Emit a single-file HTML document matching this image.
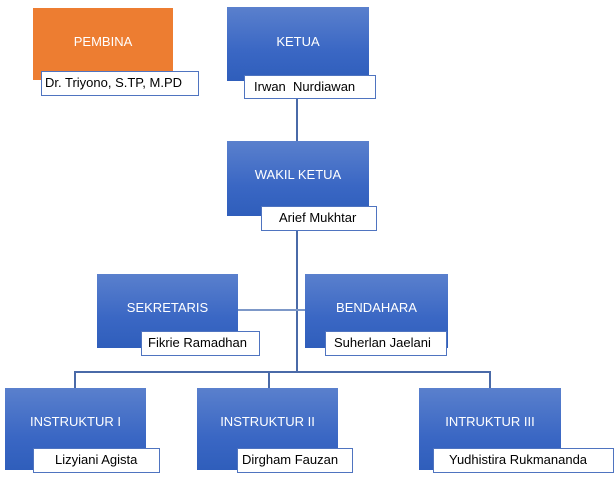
<!DOCTYPE html>
<html><head><meta charset="utf-8"><style>
body{margin:0;width:614px;height:482px;background:#fff;position:relative;overflow:hidden;font-family:"Liberation Sans",sans-serif}
.b{position:absolute;background:linear-gradient(#5a80cd,#3a67c4 60%,#2f5ebb);color:#fff;font-size:13px;text-align:center;box-sizing:border-box}
.o{background:#ed7d31}
.l{position:absolute;background:#fff;border:1.5px solid #4f74c0;font-size:13px;color:#000;box-sizing:border-box;line-height:22px;white-space:nowrap}
.ln{position:absolute;background:#4a6aa8}
</style></head><body>
<div class="ln" style="left:296px;top:99px;width:2px;height:42px"></div>
<div class="ln" style="left:296px;top:230px;width:2px;height:143px"></div>
<div class="ln" style="left:238px;top:309px;width:67px;height:2px;background:#7d98c8"></div>
<div class="ln" style="left:74px;top:371px;width:417px;height:1.5px"></div>
<div class="ln" style="left:74px;top:371px;width:1.5px;height:17px"></div>
<div class="ln" style="left:268px;top:371px;width:1.5px;height:17px"></div>
<div class="ln" style="left:489px;top:371px;width:1.5px;height:17px"></div>

<div class="b o" style="left:33px;top:8px;width:140px;height:72px;line-height:68px">PEMBINA</div>
<div class="l" style="left:41px;top:71px;width:158px;height:25px;padding-left:3px">Dr. Triyono, S.TP, M.PD</div>

<div class="b" style="left:227px;top:7px;width:142px;height:74px;line-height:70px">KETUA</div>
<div class="l" style="left:244px;top:75px;width:132px;height:24px;padding-left:9px">Irwan&nbsp; Nurdiawan</div>

<div class="b" style="left:227px;top:141px;width:142px;height:75px;line-height:68px">WAKIL KETUA</div>
<div class="l" style="left:261px;top:206px;width:116px;height:25px;padding-left:17px">Arief Mukhtar</div>

<div class="b" style="left:97px;top:274px;width:141px;height:74px;line-height:68px">SEKRETARIS</div>
<div class="l" style="left:141px;top:331px;width:119px;height:25px;padding-left:6px">Fikrie Ramadhan</div>

<div class="b" style="left:305px;top:274px;width:143px;height:74px;line-height:68px">BENDAHARA</div>
<div class="l" style="left:325px;top:331px;width:122px;height:25px;padding-left:8px">Suherlan Jaelani</div>

<div class="b" style="left:5px;top:388px;width:141px;height:82px;line-height:68px">INSTRUKTUR I</div>
<div class="l" style="left:33px;top:448px;width:127px;height:25px;padding-left:21px">Lizyiani Agista</div>

<div class="b" style="left:197px;top:388px;width:141px;height:82px;line-height:68px">INSTRUKTUR II</div>
<div class="l" style="left:237px;top:448px;width:116px;height:25px;padding-left:4px">Dirgham Fauzan</div>

<div class="b" style="left:419px;top:388px;width:142px;height:82px;line-height:68px">INTRUKTUR III</div>
<div class="l" style="left:433px;top:448px;width:181px;height:25px;padding-left:15px">Yudhistira Rukmananda</div>
</body></html>
